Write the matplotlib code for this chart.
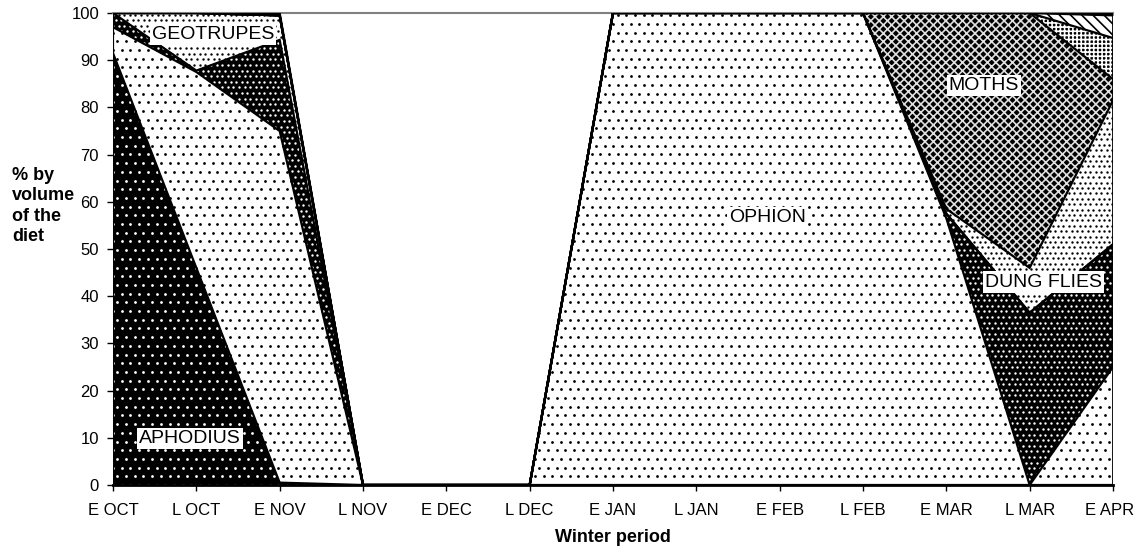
import numpy as np
import matplotlib
matplotlib.use('Agg')
import matplotlib.pyplot as plt
import matplotlib.transforms as mtrans

plt.rcParams['font.family'] = ['Liberation Sans', 'DejaVu Sans']
plt.rcParams['hatch.linewidth'] = 1.2

# categories along the winter
periods = ['E OCT', 'L OCT', 'E NOV', 'L NOV', 'E DEC', 'L DEC', 'E JAN',
           'L JAN', 'E FEB', 'L FEB', 'E MAR', 'L MAR', 'E APR']

# % by volume of the diet, stacked bottom -> top
aphodius   = [91.5, 46.0,  0.5, 0, 0, 0,   0,   0,   0,   0,  0.0,  0.0,  0.0]
ophion     = [ 5.5, 41.5, 74.5, 0, 0, 0, 100, 100, 100, 100, 56.5,  0.0, 25.0]
beetles    = [ 3.0,  0.3, 19.3, 0, 0, 0,   0,   0,   0,   0,  1.0, 36.5, 26.0]
geotrupes  = [ 0.0, 12.2,  5.2, 0, 0, 0,   0,   0,   0,   0,  0.0,  0.0,  0.0]
dung_flies = [ 0.0,  0.0,  0.0, 0, 0, 0,   0,   0,   0,   0,  1.0,  9.5, 30.5]
moths      = [ 0.0,  0.0,  0.0, 0, 0, 0,   0,   0,   0,   0, 41.5, 54.0,  4.5]
other_a    = [ 0.0,  0.0,  0.0, 0, 0, 0,   0,   0,   0,   0,  0.0,  0.0,  8.7]
other_b    = [ 0.0,  0.0,  0.0, 0, 0, 0,   0,   0,   0,   0,  0.0,  0.0,  4.8]
other_c    = [ 0.0,  0.0,  0.5, 0, 0, 0,   0,   0,   0,   0,  0.0,  0.0,  0.5]

series = [aphodius, ophion, beetles, geotrupes, dung_flies, moths,
          other_a, other_b, other_c]
# (face colour, pattern colour, hatch or dot spacing in px)
styles = [('black', 'white', 8.7),
          ('white', 'black', 8.7),
          ('black', 'white', 5.6),
          ('white', 'black', 5.6),
          ('white', 'black', 5.4),
          ('black', '#e0e0e0', 'xxxx'),
          ('black', 'white', '++++'),
          ('white', 'black', '\\\\\\'),
          ('black', 'black', None)]

x = np.arange(len(periods))

fig = plt.figure(figsize=(11.37, 5.56), dpi=100)
AX_W, AX_H = 1000, 472
ax = fig.add_axes([113/1137, 1-485/556, AX_W/1137, AX_H/556])


def dot_texture(poly, spacing, color):
    # staggered dot screen in pixel units, clipped to the area polygon
    nx = int(AX_W/spacing) + 2
    ny = int(AX_H/spacing) + 2
    gx, gy = np.meshgrid(np.arange(nx)*spacing, np.arange(ny)*spacing)
    gx = gx + (np.arange(ny)[:, None] % 2)*spacing/2
    sc = ax.scatter(gx.ravel()/AX_W, gy.ravel()/AX_H, s=4 if spacing > 7 else 3,
                    c=color, linewidths=0, transform=ax.transAxes, zorder=2)
    sc.set_clip_path(poly.get_paths()[0], ax.transData)


lower = np.zeros(len(x))
for vals, (fc, pc, pat) in zip(series, styles):
    upper = lower + np.array(vals)
    if isinstance(pat, float):
        poly = ax.fill_between(x, lower, upper, facecolor=fc, lw=0, zorder=1)
        dot_texture(poly, pat, pc)
    else:
        ax.fill_between(x, lower, upper, facecolor=fc, edgecolor=pc,
                        hatch=pat, lw=0, zorder=1)
    lower = upper

lower = np.zeros(len(x))
for vals in series:
    upper = lower + np.array(vals)
    ax.plot(x, upper, color='black', lw=1.6, solid_joinstyle='miter', zorder=3)
    lower = upper
ax.plot([x[0], x[0]], [0, 100], color='black', lw=1.6, zorder=3)
ax.plot([x[-1], x[-1]], [0, 100], color='black', lw=2, zorder=3)

ax.set_xlim(x[0], x[-1])
ax.set_ylim(0, 100)
ax.set_yticks(np.arange(0, 101, 10))
ax.set_xticks(x)
ax.set_xticklabels(periods)
ax.tick_params(axis='x', direction='out', length=4, width=1, pad=9, labelsize=12)
ax.tick_params(axis='y', direction='out', length=4, width=1, pad=6, labelsize=12)
# keep the last label inside the figure
last = ax.get_xticklabels()[-1]
last.set_transform(last.get_transform() +
                   mtrans.ScaledTranslation(-3/100, 0, fig.dpi_scale_trans))

for s in ['left', 'right']:
    ax.spines[s].set_visible(False)
ax.spines['top'].set_color('#808080')
ax.spines['top'].set_linewidth(1.5)
ax.spines['bottom'].set_linewidth(2)
ax.spines['bottom'].set_zorder(4)

ax.set_xlabel('Winter period', fontsize=13, fontweight='bold', labelpad=8)
fig.text(12/1137, 1-206/556, '% by\nvolume\nof the\ndiet', fontsize=13,
         fontweight='bold', ha='left', va='center', linespacing=1.25)

box = dict(facecolor='white', edgecolor='none', pad=1.5)
lab = dict(fontsize=14, ha='center', va='center', bbox=box, zorder=5)
ax.text(1.2, 95.5, 'GEOTRUPES', **lab)
ax.text(0.92, 9.8, 'APHODIUS', **lab)
ax.text(7.85, 56.6, 'OPHION', **lab)
ax.text(10.45, 84.7, 'MOTHS', **lab)
ax.text(11.17, 43, 'DUNG FLIES', **lab)

fig.savefig('out.png', dpi=100)
